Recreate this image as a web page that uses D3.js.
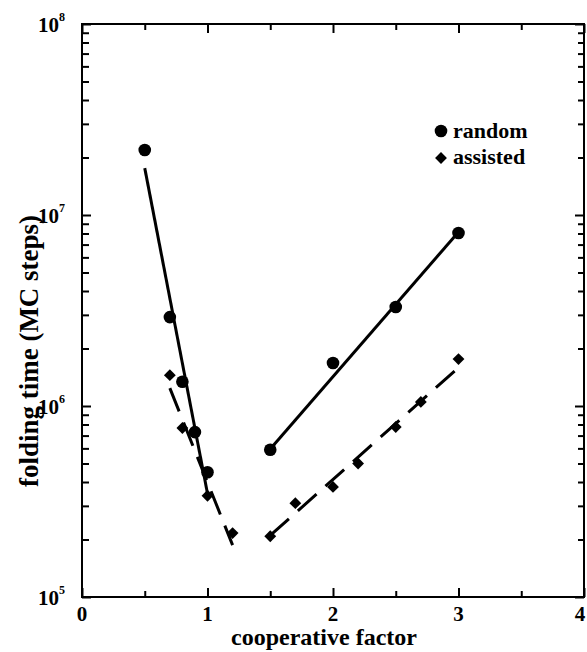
<!DOCTYPE html>
<html><head><meta charset="utf-8">
<script src="https://cdn.jsdelivr.net/npm/d3@7"></script>
<style>body{margin:0;background:#fff}svg{display:block}text{font-family:"Liberation Serif","Times New Roman",serif;font-weight:bold;fill:#000}</style>
</head><body>
<script>
// data
const randomX = [0.5, 0.7, 0.8, 0.9, 1.0, 1.5, 2.0, 2.5, 3.0];
const randomY = [2.19e7, 2.92e6, 1.34e6, 7.3e5, 4.5e5, 5.9e5, 1.68e6, 3.3e6, 8.05e6];
const assistedX = [0.7, 0.8, 1.0, 1.2, 1.5, 1.7, 2.0, 2.2, 2.5, 2.7, 3.0];
const assistedY = [1.45e6, 7.67e5, 3.39e5, 2.16e5, 2.08e5, 3.1e5, 3.77e5, 5.0e5, 7.76e5, 1.05e6, 1.76e6];
const randomFit1X = [0.5, 1.0], randomFit1Y = [1.76e7, 3.48e5];
const randomFit2X = [1.5, 3.0], randomFit2Y = [5.96e5, 8.15e6];
const assistedFit1X = [0.7, 1.2], assistedFit1Y = [1.24e6, 1.87e5];
const assistedFit2X = [1.5, 3.0], assistedFit2Y = [2.1e5, 1.59e6];
const xTickLabels = ["0", "1", "2", "3", "4"];
const yTickExponents = ["5", "6", "7", "8"];
const legendLabels = ["random", "assisted"];

const W = 587, H = 652;
const m = {left: 82, right: 3, top: 24, bottom: 55};
const svg = d3.select("body").append("svg").attr("width", W).attr("height", H);
const x = d3.scaleLinear().domain([0, 4]).range([m.left, W - m.right]);
const y = d3.scaleLog().domain([1e5, 1e8]).range([H - m.bottom, m.top]);

// ticks
const xMajor = xTickLabels.map(Number);
const xMinor = [0.5, 1.5, 2.5, 3.5];
const yMajor = yTickExponents.map(e => Math.pow(10, +e));
const yMinor = [];
for (let d = 5; d < 8; d++) for (let k = 2; k <= 9; k++) yMinor.push(k * Math.pow(10, d));

svg.append("g").attr("transform", `translate(0,${y(1e5)})`)
  .call(d3.axisTop(x).tickValues(xMajor).tickSize(9).tickFormat(""));
svg.append("g").attr("transform", `translate(0,${y(1e5)})`)
  .call(d3.axisTop(x).tickValues(xMinor).tickSize(6).tickFormat(""));
svg.append("g").attr("transform", `translate(0,${y(1e8)})`)
  .call(d3.axisBottom(x).tickValues(xMajor).tickSize(9).tickFormat(""));
svg.append("g").attr("transform", `translate(0,${y(1e8)})`)
  .call(d3.axisBottom(x).tickValues(xMinor).tickSize(6).tickFormat(""));
svg.append("g").attr("transform", `translate(${x(0)},0)`)
  .call(d3.axisRight(y).tickValues(yMajor).tickSize(9).tickFormat(""));
svg.append("g").attr("transform", `translate(${x(0)},0)`)
  .call(d3.axisRight(y).tickValues(yMinor).tickSize(7).tickFormat(""));
svg.append("g").attr("transform", `translate(${x(4)},0)`)
  .call(d3.axisLeft(y).tickValues(yMajor).tickSize(9).tickFormat(""));
svg.append("g").attr("transform", `translate(${x(4)},0)`)
  .call(d3.axisLeft(y).tickValues(yMinor).tickSize(6).tickFormat(""));
svg.selectAll(".domain").remove();
svg.selectAll(".tick line").attr("stroke", "#000").attr("stroke-width", 2);

// frame
svg.append("rect").attr("x", x(0)).attr("y", y(1e8))
  .attr("width", x(4) - x(0)).attr("height", y(1e5) - y(1e8))
  .attr("fill", "none").attr("stroke", "#000").attr("stroke-width", 2);

// tick labels
svg.append("g").selectAll("text").data(xTickLabels).join("text")
  .attr("x", d => Math.min(x(+d), W - 7)).attr("y", y(1e5) + 24)
  .attr("text-anchor", "middle").attr("font-size", 21).text(d => d);
const yl = svg.append("g").selectAll("text").data(yTickExponents).join("text")
  .attr("x", 65).attr("y", d => y(Math.pow(10, +d)) + 8)
  .attr("text-anchor", "end").attr("font-size", 21);
yl.append("tspan").text("10");
yl.append("tspan").attr("font-size", 12).attr("dy", -11).text(d => d);

// axis titles
svg.append("text").attr("x", 324).attr("y", 645)
  .attr("text-anchor", "middle").attr("font-size", 24).text("cooperative factor");
svg.append("text").attr("transform", `translate(38,351) rotate(-90)`)
  .attr("text-anchor", "middle").attr("font-size", 27).text("folding time (MC steps)");

// fit lines
const line = d3.line().x(d => x(d[0])).y(d => y(d[1]));
const fits = [
  {xs: randomFit1X, ys: randomFit1Y, dash: null},
  {xs: randomFit2X, ys: randomFit2Y, dash: null},
  {xs: assistedFit1X, ys: assistedFit1Y, dash: "25,12"},
  {xs: assistedFit2X, ys: assistedFit2Y, dash: "25,12"}
];
svg.append("g").selectAll("path").data(fits).join("path")
  .attr("d", f => line(d3.zip(f.xs, f.ys)))
  .attr("fill", "none").attr("stroke", "#000").attr("stroke-width", 3)
  .attr("stroke-dasharray", f => f.dash);

// markers
const circ = d3.symbol().type(d3.symbolCircle).size(Math.PI * 6.3 * 6.3);
const diam = d3.symbol().type(d3.symbolSquare).size(70);
svg.append("g").selectAll("path").data(d3.zip(randomX, randomY)).join("path")
  .attr("d", circ).attr("transform", d => `translate(${x(d[0])},${y(d[1])})`).attr("fill", "#000");
svg.append("g").selectAll("path").data(d3.zip(assistedX, assistedY)).join("path")
  .attr("d", diam).attr("transform", d => `translate(${x(d[0])},${y(d[1])}) rotate(45)`).attr("fill", "#000");

// legend
const lg = svg.append("g");
lg.append("path").attr("d", circ).attr("transform", "translate(441,131)").attr("fill", "#000");
lg.append("path").attr("d", diam).attr("transform", "translate(441,158) rotate(45)").attr("fill", "#000");
lg.selectAll("text").data(legendLabels).join("text")
  .attr("x", 453).attr("y", (d, i) => 138 + i * 26).attr("font-size", 22).text(d => d);
</script>
</body></html>
